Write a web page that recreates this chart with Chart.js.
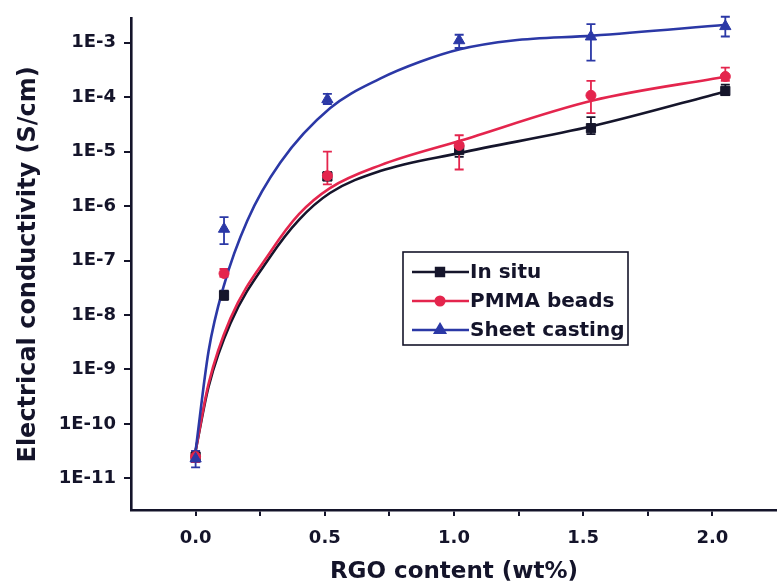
<!DOCTYPE html>
<html>
<head>
<meta charset="utf-8">
<script src="https://cdn.jsdelivr.net/npm/chart.js@4.4.1/dist/chart.umd.min.js"></script>
<style>
    html, body { margin: 0; padding: 0; background: #fff; }
    #wrap { width: 777px; height: 586px; }
</style>
</head>
<body>
<div id="wrap"><canvas id="condChart"></canvas></div>
<script>
// RGO content of the measured samples (wt%)
const rgoContent = [0, 0.11, 0.51, 1.02, 1.53, 2.05];

// measured conductivity (S/cm) with error bar ends
const inSitu = [2.5e-11, 2.3e-8, 3.5e-6, 1.07e-5, 2.7e-5, 1.3e-4];
const inSituLow = [2.0e-11, 1.9e-8, 3.0e-6, 8.0e-6, 2.1e-5, 1.1e-4];
const inSituHigh = [3.0e-11, 2.8e-8, 4.2e-6, 1.4e-5, 4.3e-5, 1.7e-4];

const pmmaBeads = [2.5e-11, 5.8e-8, 3.6e-6, 1.3e-5, 1.08e-4, 2.4e-4];
const pmmaLow = [2.0e-11, 5.0e-8, 2.5e-6, 4.7e-6, 5.1e-5, 2.0e-4];
const pmmaHigh = [3.0e-11, 7.0e-8, 1.0e-5, 2.0e-5, 2.0e-4, 3.5e-4];

const sheetCasting = [2.3e-11, 3.8e-7, 9.1e-5, 1.1e-3, 1.29e-3, 2.0e-3];
const sheetLow = [1.6e-11, 2.0e-7, 7.5e-5, 8.0e-4, 4.7e-4, 1.3e-3];
const sheetHigh = [3.2e-11, 6.3e-7, 1.15e-4, 1.4e-3, 2.2e-3, 3.0e-3];

// fitted curves
const fitInSituX = [0, 0.05, 0.135, 0.29, 0.40, 0.52, 0.714, 1.023, 1.537, 2.054];
const fitInSituY = [3.2e-11, 4.8e-10, 7.1e-9, 1.2e-7, 5.6e-7, 1.74e-6, 4.4e-6, 9.5e-6, 2.95e-5, 1.29e-4];
const fitPmmaX = [0, 0.05, 0.135, 0.29, 0.40, 0.52, 0.714, 1.023, 1.537, 2.054];
const fitPmmaY = [3.2e-11, 5.4e-10, 8.7e-9, 1.45e-7, 7.1e-7, 2.14e-6, 5.6e-6, 1.58e-5, 8.7e-5, 2.4e-4];
const fitSheetX = [0, 0.05, 0.108, 0.2, 0.328, 0.521, 0.714, 0.869, 1.023, 1.228, 1.537, 2.054];
const fitSheetY = [3.2e-11, 2.14e-9, 3.3e-8, 5.4e-7, 6.3e-6, 6.3e-5, 2.19e-4, 4.47e-4, 7.6e-4, 1.1e-3, 1.35e-3, 2.14e-3];

const seriesNames = ['In situ', 'PMMA beads', 'Sheet casting'];

// axis ticks
const xTickValues = [0, 0.25, 0.5, 0.75, 1.0, 1.25, 1.5, 1.75, 2.0];
const xTickLabels = ['0.0', '', '0.5', '', '1.0', '', '1.5', '', '2.0'];
const yTickValues = [1e-11, 1e-10, 1e-9, 1e-8, 1e-7, 1e-6, 1e-5, 1e-4, 1e-3];
const yTickLabels = ['1E-11', '1E-10', '1E-9', '1E-8', '1E-7', '1E-6', '1E-5', '1E-4', '1E-3'];

const INK = '#14142a';
const BLACK = '#15152b';
const RED = '#e4254d';
const BLUE = '#2b38a6';
const FONT = '"DejaVu Sans", sans-serif';

function pairs(xs, ys) {
    return xs.map((x, i) => ({ x: x, y: ys[i] }));
}

const errorSets = [
    { low: inSituLow, high: inSituHigh, color: BLACK },
    { low: pmmaLow, high: pmmaHigh, color: RED },
    { low: sheetLow, high: sheetHigh, color: BLUE }
];

const errorBarPlugin = {
    id: 'errorBars',
    beforeDatasetsDraw(chart) {
        const ctx = chart.ctx;
        const xs = chart.scales.x, ys = chart.scales.y;
        ctx.save();
        ctx.lineWidth = 1.8;
        errorSets.forEach(set => {
            ctx.strokeStyle = set.color;
            rgoContent.forEach((c, i) => {
                const px = xs.getPixelForValue(c);
                const top = ys.getPixelForValue(set.high[i]);
                const bot = ys.getPixelForValue(set.low[i]);
                ctx.beginPath();
                ctx.moveTo(px, top); ctx.lineTo(px, bot);
                ctx.moveTo(px - 4.5, top); ctx.lineTo(px + 4.5, top);
                ctx.moveTo(px - 4.5, bot); ctx.lineTo(px + 4.5, bot);
                ctx.stroke();
            });
        });
        ctx.restore();
    }
};

// boxed legend inside the plot, like the original figure
const boxLegendPlugin = {
    id: 'boxLegend',
    afterDraw(chart) {
        const ctx = chart.ctx;
        const left = 403, top = 252, w = 225, h = 93;
        ctx.save();
        ctx.strokeStyle = INK;
        ctx.lineWidth = 1.6;
        ctx.strokeRect(left, top, w, h);
        const markerSets = chart.data.datasets.filter(d => d.isMarker);
        markerSets.forEach((ds, i) => {
            const y = top + 20 + i * 29;
            ctx.strokeStyle = ds.borderColor;
            ctx.lineWidth = 2.6;
            ctx.beginPath();
            ctx.moveTo(left + 9, y); ctx.lineTo(left + 66, y);
            ctx.stroke();
            ctx.fillStyle = ds.backgroundColor;
            Chart.helpers.drawPoint(ctx, {
                pointStyle: ds.pointStyle, radius: ds.pointRadius * 0.85,
                borderWidth: 1
            }, left + 37, y);
            ctx.fillStyle = INK;
            ctx.font = 'bold 20px ' + FONT;
            ctx.textBaseline = 'middle';
            ctx.fillText(ds.label, left + 67, y + 1);
        });
        ctx.restore();
    }
};

function curve(label, xs, ys, color, order) {
    return {
        label: label,
        data: pairs(xs, ys),
        borderColor: color,
        borderWidth: 2.6,
        pointRadius: 0,
        cubicInterpolationMode: 'monotone',
        fill: false,
        clip: false,
        order: order
    };
}

function markers(label, ys, color, style, radius, order) {
    return {
        label: label,
        isMarker: true,
        data: pairs(rgoContent, ys),
        showLine: false,
        borderColor: color,
        backgroundColor: color,
        pointStyle: style,
        pointRadius: radius,
        pointBorderWidth: 1,
        clip: false,
        order: order
    };
}

const ctx = document.getElementById('condChart').getContext('2d');
const condChart = new Chart(ctx, {
    type: 'line',
    data: {
        datasets: [
            curve(seriesNames[0] + ' fit', fitInSituX, fitInSituY, BLACK, 6),
            curve(seriesNames[1] + ' fit', fitPmmaX, fitPmmaY, RED, 5),
            curve(seriesNames[2] + ' fit', fitSheetX, fitSheetY, BLUE, 4),
            markers(seriesNames[0], inSitu, BLACK, 'rect', 6.5, 3),
            markers(seriesNames[1], pmmaBeads, RED, 'circle', 5, 2),
            markers(seriesNames[2], sheetCasting, BLUE, 'triangle', 6.5, 1)
        ]
    },
    options: {
        responsive: true,
        maintainAspectRatio: false,
        animation: false,
        layout: { autoPadding: false, padding: { top: 15, right: 0, bottom: 0, left: 0 } },
        plugins: {
            legend: { display: false },
            tooltip: { enabled: false }
        },
        scales: {
            x: {
                type: 'linear',
                min: -0.25,
                max: 2.25,
                afterBuildTicks: function (scale) {
                    scale.ticks = xTickValues.map(v => ({ value: v }));
                },
                afterFit: function (scale) {
                    scale.height = 76;
                },
                grid: {
                    drawOnChartArea: false,
                    drawTicks: true,
                    tickLength: 6,
                    color: INK,
                    lineWidth: 2
                },
                border: { color: INK, width: 2.6 },
                ticks: {
                    autoSkip: false,
                    maxRotation: 0,
                    padding: 12,
                    color: INK,
                    font: { family: FONT, size: 18, weight: 'bold' },
                    callback: function (value, index) {
                        return xTickLabels[index];
                    }
                },
                title: {
                    display: true,
                    text: 'RGO content (wt%)',
                    color: INK,
                    padding: { top: 0, bottom: 0 },
                    font: { family: FONT, size: 23, weight: 'bold' }
                }
            },
            y: {
                type: 'logarithmic',
                min: 2.63e-12,
                max: 2.75e-3,
                afterBuildTicks: function (scale) {
                    scale.ticks = yTickValues.map(v => ({ value: v }));
                },
                afterFit: function (scale) {
                    scale.width = 131;
                },
                grid: {
                    drawOnChartArea: false,
                    drawTicks: true,
                    tickLength: 7,
                    color: INK,
                    lineWidth: 2
                },
                border: { color: INK, width: 2.6 },
                ticks: {
                    autoSkip: false,
                    padding: 8,
                    color: INK,
                    font: { family: FONT, size: 18, weight: 'bold' },
                    callback: function (value, index) {
                        return yTickLabels[index];
                    }
                },
                title: {
                    display: true,
                    text: 'Electrical conductivity (S/cm)',
                    color: INK,
                    padding: { top: 14, bottom: 0 },
                    font: { family: FONT, size: 24, weight: 'bold' }
                }
            }
        }
    },
    plugins: [errorBarPlugin, boxLegendPlugin]
});
</script>
</body>
</html>
